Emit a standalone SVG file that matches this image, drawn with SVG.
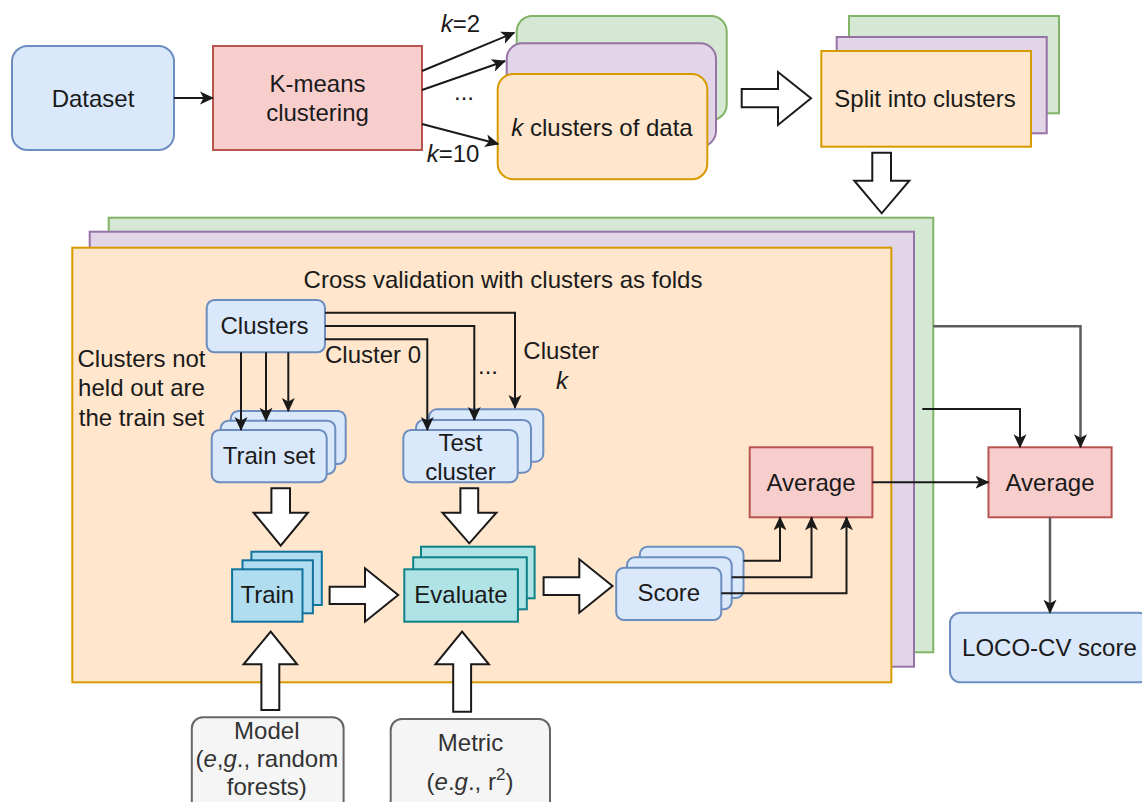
<svg xmlns="http://www.w3.org/2000/svg" width="1142" height="802" viewBox="0 0 1142 802">
  <defs>
    <style>
      .t{font-family:"Liberation Sans",Arial,Helvetica,sans-serif;font-size:24px;fill:#1a1a1a}
      .m{text-anchor:middle}
      .i{font-style:italic}
      .dim{fill:#333333}
      .blue{fill:#dae8fc;stroke:#6c8ebf;stroke-width:2}
      .red{fill:#f8cecc;stroke:#b85450;stroke-width:2}
      .grn{fill:#d5e8d4;stroke:#82b366;stroke-width:2}
      .pur{fill:#e1d5e7;stroke:#9673a6;stroke-width:2}
      .org{fill:#ffe6cc;stroke:#d79b00;stroke-width:2}
      .trn{fill:#b1ddf0;stroke:#10739e;stroke-width:2}
      .evl{fill:#b0e3e6;stroke:#0e8088;stroke-width:2}
      .gry{fill:#f5f5f5;stroke:#666666;stroke-width:2}
      .blk{fill:#ffffff;stroke:#1a1a1a;stroke-width:2;stroke-linejoin:miter}
      .ln{fill:none;stroke:#1a1a1a;stroke-width:2;marker-end:url(#arr)}
      .lg{stroke:#5c5c5c;stroke-width:2.5}
    </style>
    <marker id="arr" markerUnits="userSpaceOnUse" markerWidth="14" markerHeight="14" viewBox="0 0 14 14" refX="13" refY="7" orient="auto">
      <path d="M0,0.5 L14,7 L0,13.5 L3.5,7 z" fill="#1a1a1a"/>
    </marker>
  </defs>

  <rect width="1142" height="802" fill="#ffffff"/>

  <!-- data preparation -->
  <g id="dataset">
    <rect class="blue" x="12" y="46" width="162" height="104" rx="15.6"/>
    <text class="t m" x="93" y="106.7">Dataset</text>
  </g>
  <g id="kmeans">
    <rect class="red" x="213" y="46" width="209" height="104"/>
    <text class="t m" x="317.5" y="92">K-means</text>
    <text class="t m" x="317.5" y="121">clustering</text>
  </g>
  <g id="k-clusters">
    <rect class="grn" x="516.7" y="16" width="210" height="104" rx="15.6"/>
    <rect class="pur" x="506.7" y="43.3" width="209.3" height="103.4" rx="15.6"/>
    <rect class="org" x="497.7" y="74" width="209.6" height="105.3" rx="15.6"/>
    <text class="t m" x="602" y="135.7"><tspan class="i">k</tspan> clusters of data</text>
  </g>
  <g id="split">
    <rect class="grn" x="849" y="16" width="210" height="97.3"/>
    <rect class="pur" x="836.7" y="37" width="210" height="96.3"/>
    <rect class="org" x="821.3" y="51" width="209.7" height="95.7"/>
    <text class="t m" x="925" y="107.3">Split into clusters</text>
  </g>

  <!-- cross-validation frame -->
  <g id="cv-frame">
    <rect class="grn" x="108.7" y="217.7" width="824.6" height="434.6"/>
    <rect class="pur" x="89.7" y="231.7" width="824.3" height="435"/>
    <rect class="org" x="72.3" y="247.7" width="819" height="434.6"/>
    <text class="t m" x="503" y="288.3">Cross validation with clusters as folds</text>
  </g>
  <g id="clusters">
    <rect class="blue" x="206.7" y="300" width="118.3" height="52.3" rx="7.8"/>
    <text class="t m" x="264.5" y="334">Clusters</text>
  </g>
  <g id="train-set">
    <rect class="blue" x="230.7" y="411" width="115" height="53" rx="7.8"/>
    <rect class="blue" x="220.7" y="420.7" width="114.6" height="53.3" rx="7.8"/>
    <rect class="blue" x="211.7" y="430" width="115" height="52.3" rx="7.8"/>
    <text class="t m" x="269" y="464.3">Train set</text>
  </g>
  <g id="test-cluster">
    <rect class="blue" x="429" y="409.3" width="114.3" height="52.4" rx="7.8"/>
    <rect class="blue" x="416" y="420" width="115" height="52.7" rx="7.8"/>
    <rect class="blue" x="403.3" y="430" width="114.4" height="52.3" rx="7.8"/>
    <text class="t m" x="460.5" y="450.7">Test</text>
    <text class="t m" x="460.5" y="479.5">cluster</text>
  </g>
  <g id="train">
    <rect class="trn" x="251.4" y="551.7" width="70.4" height="53.3"/>
    <rect class="trn" x="242.5" y="560.3" width="70.4" height="53"/>
    <rect class="trn" x="232.1" y="569.3" width="70.4" height="52.4"/>
    <text class="t m" x="267.3" y="603.3">Train</text>
  </g>
  <g id="evaluate">
    <rect class="evl" x="421" y="546.7" width="113.6" height="51.6"/>
    <rect class="evl" x="413.2" y="557.3" width="113.6" height="52"/>
    <rect class="evl" x="404.3" y="569.3" width="113.6" height="52.4"/>
    <text class="t m" x="461" y="603.3">Evaluate</text>
  </g>
  <g id="score">
    <rect class="blue" x="639.8" y="546.7" width="103.7" height="51.3" rx="7.8"/>
    <rect class="blue" x="627" y="557.3" width="104.7" height="52" rx="7.8"/>
    <rect class="blue" x="616.2" y="567.7" width="105.1" height="52.3" rx="7.8"/>
    <text class="t m" x="668.8" y="600.7">Score</text>
  </g>
  <g id="average-fold">
    <rect class="red" x="749.7" y="447.3" width="122.7" height="70"/>
    <text class="t m" x="811" y="490.7">Average</text>
  </g>

  <!-- results -->
  <g id="average-k">
    <rect class="red" x="988.5" y="447.3" width="123.1" height="70"/>
    <text class="t m" x="1050" y="490.7">Average</text>
  </g>
  <g id="loco-score">
    <rect class="blue" x="950" y="612.7" width="199" height="69.6" rx="10.5"/>
    <text class="t m" x="1049.4" y="656">LOCO-CV score</text>
  </g>

  <!-- inputs -->
  <g id="model">
    <rect class="gry" x="191.8" y="717.3" width="151.8" height="100" rx="11"/>
    <text class="t m dim" x="266.8" y="739">Model</text>
    <text class="t m dim" x="266.8" y="767.3">(<tspan class="i">e</tspan>,<tspan class="i">g</tspan>., random</text>
    <text class="t m dim" x="266.8" y="795">forests)</text>
  </g>
  <g id="metric">
    <rect class="gry" x="390.7" y="719" width="159.3" height="100" rx="11"/>
    <text class="t m dim" x="470.5" y="750.7">Metric</text>
    <text class="t m dim" x="470" y="790">(<tspan class="i">e</tspan>.<tspan class="i">g</tspan>., r<tspan font-size="17" dy="-10">2</tspan><tspan dy="10">)</tspan></text>
  </g>

  <!-- connectors -->
  <g id="connectors">
    <path class="ln" d="M174,98 H213"/>
    <path class="ln" d="M422,71 L514.3,32.7"/>
    <path class="ln" d="M422,90 L505,61"/>
    <path class="ln" d="M422,124 L498.3,144"/>

    <path class="ln" d="M325,312.7 H515 V408"/>
    <path class="ln" d="M325,326 H474.3 V420"/>
    <path class="ln" d="M325,339.3 H427.3 V430"/>
    <path class="ln" d="M241,352.3 V430"/>
    <path class="ln" d="M266,352.3 V420.7"/>
    <path class="ln" d="M288.3,352.3 V411"/>

    <path class="ln" d="M743.5,560.7 H780 V517.3"/>
    <path class="ln" d="M731.7,577.3 H811.5 V517.3"/>
    <path class="ln" d="M721.3,593.3 H846.5 V517.3"/>

    <path class="ln" d="M872.4,482.3 H988.5"/>
    <path class="ln lg" d="M933.3,326.3 H1080.5 V447.3"/>
    <path class="ln" d="M922.3,409 H1020 V447.3"/>
    <path class="ln lg" d="M1050,517.3 V612.7"/>

    <!-- block arrows -->
    <polygon class="blk" points="741.7,89 778,89 778,72 811,98.3 778,125 778,107.3 741.7,107.3"/>
    <polygon class="blk" points="872.3,152.7 891,152.7 891,180.7 909.3,180.7 881.7,213.3 854.3,180.7 872.3,180.7"/>
    <polygon class="blk" points="271.4,488.3 290,488.3 290,512.7 307.9,512.7 280.7,545.7 253.6,512.7 271.4,512.7"/>
    <polygon class="blk" points="460.4,488.3 478.2,488.3 478.2,512.7 496.4,512.7 469.3,543.3 442.5,512.7 460.4,512.7"/>
    <polygon class="blk" points="329.6,586.7 365,586.7 365,568.3 398.2,595 365,621.7 365,604 329.6,604"/>
    <polygon class="blk" points="543.6,577.3 579.3,577.3 579.3,559.3 612.5,586 579.3,612.7 579.3,595 543.6,595"/>
    <polygon class="blk" points="261.4,710 261.4,664.3 243.6,664.3 270.7,631.7 297.1,664.3 279.3,664.3 279.3,710"/>
    <polygon class="blk" points="453.2,711.7 453.2,664.3 435.4,664.3 462.1,631.7 488.9,664.3 471.1,664.3 471.1,711.7"/>
  </g>

  <!-- edge labels -->
  <g id="labels">
    <text class="t" x="440.7" y="32.3"><tspan class="i">k</tspan>=2</text>
    <text class="t" x="454" y="100">...</text>
    <text class="t" x="426.7" y="161.7"><tspan class="i">k</tspan>=10</text>
    <text class="t" x="325" y="363.3">Cluster 0</text>
    <text class="t" x="478" y="374">...</text>
    <text class="t" x="523.3" y="359.3">Cluster</text>
    <text class="t m i" x="562" y="389">k</text>
    <text class="t m" x="141.5" y="366.7">Clusters not</text>
    <text class="t m" x="141.5" y="396">held out are</text>
    <text class="t m" x="141.5" y="426">the train set</text>
  </g>
</svg>
